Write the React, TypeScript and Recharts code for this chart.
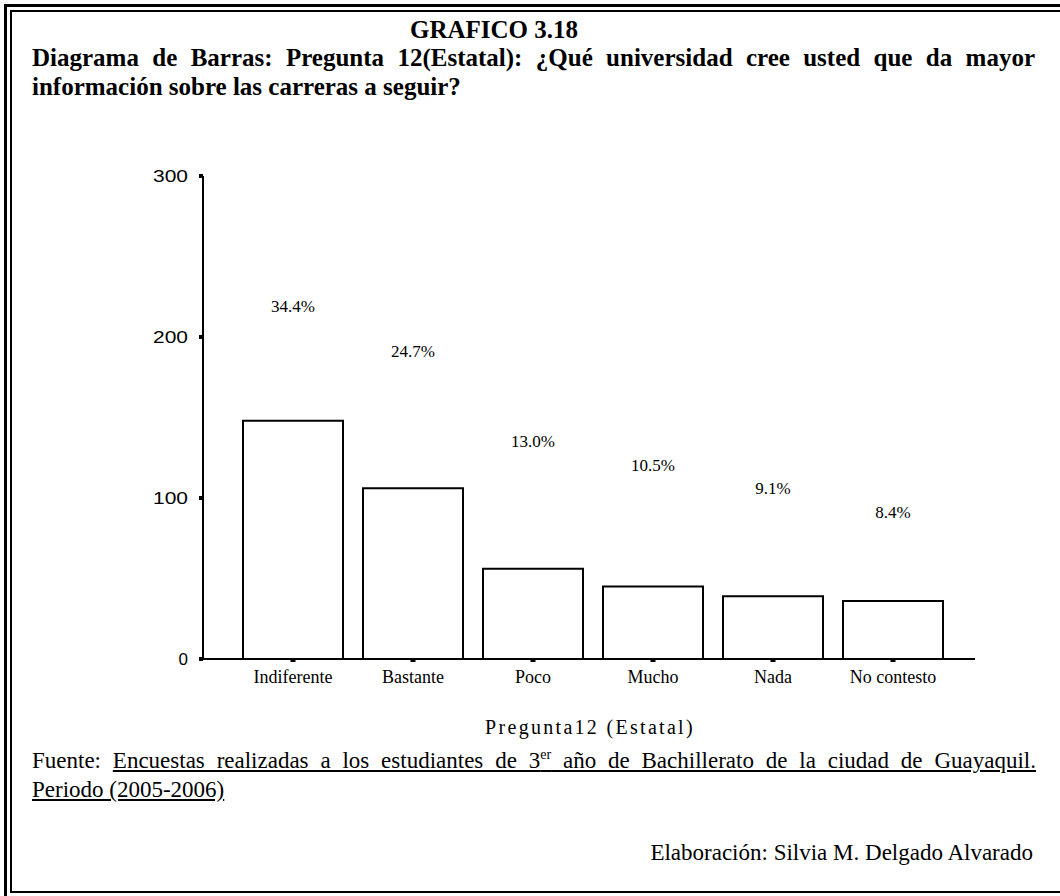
import { ComposedChart, Bar, Scatter, XAxis, YAxis } from 'recharts';

const categories = ['Indiferente', 'Bastante', 'Poco', 'Mucho', 'Nada', 'No contesto'];
const counts = [148, 106, 56, 45, 39, 36];
const percents = ['34.4%', '24.7%', '13.0%', '10.5%', '9.1%', '8.4%'];
// height (in count units) at which each percentage label sits
const labelHeights = [219, 191, 135, 120, 106, 91];
const yTicks = [0, 100, 200, 300];

const data = categories.map((name, i) => ({
  name,
  count: counts[i],
  pct: percents[i],
  labelAt: labelHeights[i],
}));

const serif = '"Liberation Serif", "Times New Roman", serif';
const sans = '"Liberation Sans", Arial, sans-serif';

function PctLabel(props: any) {
  const { cx, cy, payload } = props;
  return (
    <text x={cx} y={cy} textAnchor="middle" dominantBaseline="central" fontFamily={serif} fontSize={17} fill="#000">
      {payload.pct}
    </text>
  );
}

// the scanned chart has its y labels a bit stretched sideways
function YTick(props: any) {
  const { x, y, payload } = props;
  const s = String(payload.value);
  return (
    <text
      x={x}
      y={y}
      dy={6}
      textAnchor="end"
      fontFamily={sans}
      fontSize={17}
      fill="#000"
      textLength={s.length > 1 ? s.length * 12 - 1 : undefined}
      lengthAdjust="spacingAndGlyphs"
    >
      {s}
    </text>
  );
}

function line(style: any) {
  return <div style={{ position: 'absolute', background: '#000', ...style }} />;
}

export default function App() {
  return (
    <div style={{ position: 'absolute', left: 0, top: 0, width: 1060, height: 896, background: '#fff', overflow: 'hidden' }}>
      {/* frame */}
      {line({ left: 4, top: 4, width: 3, height: 892 })}
      {line({ left: 4, top: 4, width: 1056, height: 3 })}
      {line({ left: 10, top: 10, width: 2, height: 883 })}
      {line({ left: 10, top: 10, width: 1050, height: 2 })}
      {line({ left: 10, top: 891, width: 1050, height: 2 })}

      <div style={{ position: 'absolute', left: 410, top: 16, width: 180, fontFamily: serif, fontWeight: 'bold', fontSize: 25, lineHeight: '28px', whiteSpace: 'nowrap' }}>
        GRAFICO 3.18
      </div>
      <div style={{ position: 'absolute', left: 32, top: 44, width: 1003, fontFamily: serif, fontWeight: 'bold', fontSize: 25, lineHeight: '28px', textAlign: 'justify', textAlignLast: 'justify', whiteSpace: 'nowrap' } as any}>
        Diagrama de Barras: Pregunta 12(Estatal): ¿Qué universidad cree usted que da mayor
      </div>
      <div style={{ position: 'absolute', left: 32, top: 73, width: 1003, fontFamily: serif, fontWeight: 'bold', fontSize: 25, lineHeight: '28px' }}>
        información sobre las carreras a seguir?
      </div>

      <div style={{ position: 'absolute', left: 0, top: 0 }}>
        <ComposedChart width={1060} height={896} data={data} margin={{ top: 176, right: 85, bottom: 207, left: 143 }} barCategoryGap={10}>
          <XAxis
            dataKey="name"
            type="category"
            height={30}
            padding={{ left: 30, right: 22 }}
            axisLine={{ stroke: '#000', strokeWidth: 2 }}
            tickLine={{ stroke: '#000', strokeWidth: 5 }}
            tickSize={3}
            tickMargin={8}
            tick={{ fontFamily: serif, fontSize: 18, fill: '#000' }}
            interval={0}
          />
          <YAxis
            domain={[0, 300]}
            ticks={yTicks}
            width={60}
            axisLine={{ stroke: '#000', strokeWidth: 2 }}
            tickLine={{ stroke: '#000', strokeWidth: 4 }}
            tickSize={4}
            tickMargin={11}
            tick={<YTick />}
          />
          <Bar dataKey="count" fill="#fff" stroke="#000" strokeWidth={2} isAnimationActive={false} />
          <Scatter dataKey="labelAt" shape={<PctLabel />} isAnimationActive={false} />
        </ComposedChart>
      </div>

      <div style={{ position: 'absolute', left: 440, top: 715, width: 300, textAlign: 'center', fontFamily: serif, fontSize: 20, lineHeight: '24px', letterSpacing: 2.3, whiteSpace: 'nowrap' }}>
        Pregunta12 (Estatal)
      </div>

      <div style={{ position: 'absolute', left: 32, top: 747, width: 1004, fontFamily: serif, fontSize: 23, lineHeight: '27px', textAlign: 'justify', textAlignLast: 'justify', whiteSpace: 'nowrap' } as any}>
        Fuente: <u>Encuestas realizadas a los estudiantes de 3<sup style={{ fontSize: 14, lineHeight: 0 }}>er</sup> año de Bachillerato de la ciudad de Guayaquil.</u>
      </div>
      <div style={{ position: 'absolute', left: 32, top: 776, fontFamily: serif, fontSize: 23, lineHeight: '27px', whiteSpace: 'nowrap' }}>
        <u>Periodo (2005-2006)</u>
      </div>
      <div style={{ position: 'absolute', right: 27, top: 839, fontFamily: serif, fontSize: 23, lineHeight: '27px', whiteSpace: 'nowrap' }}>
        Elaboración: Silvia M. Delgado Alvarado
      </div>
    </div>
  );
}
